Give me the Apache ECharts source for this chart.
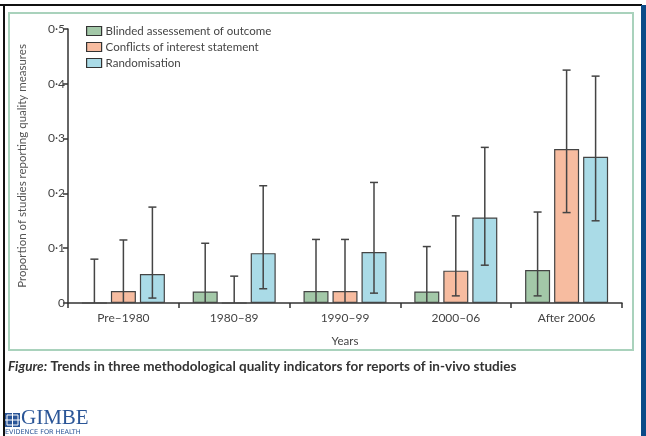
<!DOCTYPE html>
<html>
<head>
<meta charset="utf-8">
<script src="https://cdn.jsdelivr.net/npm/echarts@6/dist/echarts.min.js"></script>
<style>
  html, body { margin: 0; padding: 0; background: #fff; }
  #chart { width: 646px; height: 436px; }
</style>
</head>
<body>
<div id="chart"></div>
<script>
const categories = ["Pre–1980", "1980–89", "1990–99", "2000–06", "After 2006"];
const yTicks = [0, 0.1, 0.2, 0.3, 0.4, 0.5];

const blinded = [0, 0.021, 0.022, 0.021, 0.060];
const blindedLow = [0, 0, 0, 0, 0.013];
const blindedHigh = [0.080, 0.109, 0.116, 0.103, 0.166];

const conflicts = [0.022, 0, 0.022, 0.059, 0.281];
const conflictsLow = [0, 0, 0, 0.013, 0.165];
const conflictsHigh = [0.115, 0.049, 0.116, 0.159, 0.425];

const randomisation = [0.053, 0.091, 0.093, 0.156, 0.267];
const randomisationLow = [0.009, 0.026, 0.018, 0.069, 0.150];
const randomisationHigh = [0.175, 0.214, 0.220, 0.284, 0.414];

const names = ["Blinded assessement of outcome", "Conflicts of interest statement", "Randomisation"];
const colors = ["#a3c8a8", "#f7bca0", "#aadbe7"];

const BAR_W = 25;
const BAR_STEP = 29;

function errorData(low, high) {
    return low.map((l, i) => [i, l, high[i]]);
}

function errorRender(slot) {
    return function (params, api) {
        const lo = api.coord([api.value(0), api.value(1)]);
        const hi = api.coord([api.value(0), api.value(2)]);
        const x = lo[0] + (slot - 1) * BAR_STEP;
        const cap = 4;
        const style = { stroke: "#444", lineWidth: 1.5 };
        const children = [
            { type: "line", shape: { x1: x, y1: lo[1], x2: x, y2: hi[1] }, style: style },
            { type: "line", shape: { x1: x - cap, y1: hi[1], x2: x + cap, y2: hi[1] }, style: style }
        ];
        if (api.value(1) > 0) {
            children.push({ type: "line", shape: { x1: x - cap, y1: lo[1], x2: x + cap, y2: lo[1] }, style: style });
        }
        return { type: "group", children: children };
    };
}

function barSeries(i, data) {
    return {
        name: names[i],
        type: "bar",
        data: data,
        barWidth: BAR_W,
        barGap: "16%",
        itemStyle: { color: colors[i], borderColor: "#444", borderWidth: 1.2 },
        silent: true
    };
}

function errSeries(i, low, high) {
    return {
        type: "custom",
        data: errorData(low, high),
        renderItem: errorRender(i),
        encode: { x: 0, y: [1, 2] },
        z: 5,
        silent: true
    };
}

const chart = echarts.init(document.getElementById("chart"));
const option = {
    animation: false,
    textStyle: { fontFamily: "Lato" },
    grid: { left: 68, right: 24, top: 29, bottom: 133 },
    legend: {
        orient: "vertical",
        left: 81,
        top: 20,
        itemWidth: 15,
        itemHeight: 9,
        itemGap: 4,
        icon: "rect",
        data: names,
        itemStyle: { borderColor: "#333", borderWidth: 1.2 },
        textStyle: { fontSize: 11.5, color: "#444", fontFamily: "Lato", padding: [0, 0, 0, -1] }
    },
    xAxis: {
        type: "category",
        data: categories,
        name: "Years",
        nameLocation: "middle",
        nameGap: 32,
        nameTextStyle: { fontSize: 11.5, color: "#444" },
        axisLine: { lineStyle: { color: "#333", width: 1.5 } },
        axisTick: { show: true, length: 5, lineStyle: { color: "#333", width: 1.5 } },
        axisLabel: { fontSize: 12, color: "#444", margin: 9, interval: 0 }
    },
    yAxis: {
        type: "value",
        min: 0,
        max: 0.5,
        interval: 0.1,
        name: "Proportion of studies reporting quality measures",
        nameLocation: "middle",
        nameRotate: 90,
        nameGap: 40,
        nameTextStyle: { fontSize: 11.5, color: "#555" },
        splitLine: { show: false },
        axisLine: { show: true, lineStyle: { color: "#333", width: 1.5 } },
        axisTick: { show: true, length: 5, lineStyle: { color: "#333", width: 1.5 } },
        axisLabel: {
            fontSize: 12,
            color: "#444",
            margin: 3,
            formatter: function (v) {
                const t = yTicks.find((x) => Math.abs(x - v) < 1e-9);
                return t === 0 ? "0" : String(t).replace(".", "·");
            }
        }
    },
    series: [
        barSeries(0, blinded),
        barSeries(1, conflicts),
        barSeries(2, randomisation),
        errSeries(0, blindedLow, blindedHigh),
        errSeries(1, conflictsLow, conflictsHigh),
        errSeries(2, randomisationLow, randomisationHigh)
    ],
    graphic: [
        { type: "rect", shape: { x: 9, y: 13, width: 624, height: 337 }, style: { fill: "none", stroke: "#a9d2bc", lineWidth: 2 }, silent: true },
        { type: "line", shape: { x1: 0, y1: 5, x2: 642, y2: 5 }, style: { stroke: "#111", lineWidth: 2 } },
        { type: "line", shape: { x1: 4, y1: 5, x2: 4, y2: 436 }, style: { stroke: "#111", lineWidth: 2 } },
        { type: "rect", shape: { x: 641, y: 5, width: 5, height: 431 }, style: { fill: "#0b4a88" } },
        {
            type: "text", left: 8, top: 360,
            style: {
                text: "{i|Figure:} Trends in three methodological quality indicators for reports of in-vivo studies",
                fontSize: 13.5, fontWeight: "bold", fill: "#333", fontFamily: "Lato",
                rich: { i: { fontStyle: "italic", fontWeight: "bold", fontSize: 13.5, fill: "#333", fontFamily: "Lato" } }
            }
        },
        { type: "rect", shape: { x: 5, y: 413, width: 15, height: 14 }, style: { fill: "#2a5597" } },
        { type: "rect", shape: { x: 7, y: 415, width: 11, height: 10 }, style: { fill: "none", stroke: "#fff", lineWidth: 1 } },
        { type: "line", shape: { x1: 12.5, y1: 413, x2: 12.5, y2: 427 }, style: { stroke: "#fff", lineWidth: 1 } },
        { type: "line", shape: { x1: 5, y1: 420, x2: 20, y2: 420 }, style: { stroke: "#fff", lineWidth: 1 } },
        {
            type: "text", left: 21, top: 408,
            style: { text: "GIMBE", fontSize: 21, fontFamily: "Liberation Serif", fill: "#2a5597" }
        },
        {
            type: "text", left: 5, top: 429,
            style: { text: "EVIDENCE FOR HEALTH", fontSize: 6.5, fontFamily: "DejaVu Sans", fill: "#2a5597", letterSpacing: 1 }
        }
    ]
};
option && chart.setOption(option);
</script>
</body>
</html>
